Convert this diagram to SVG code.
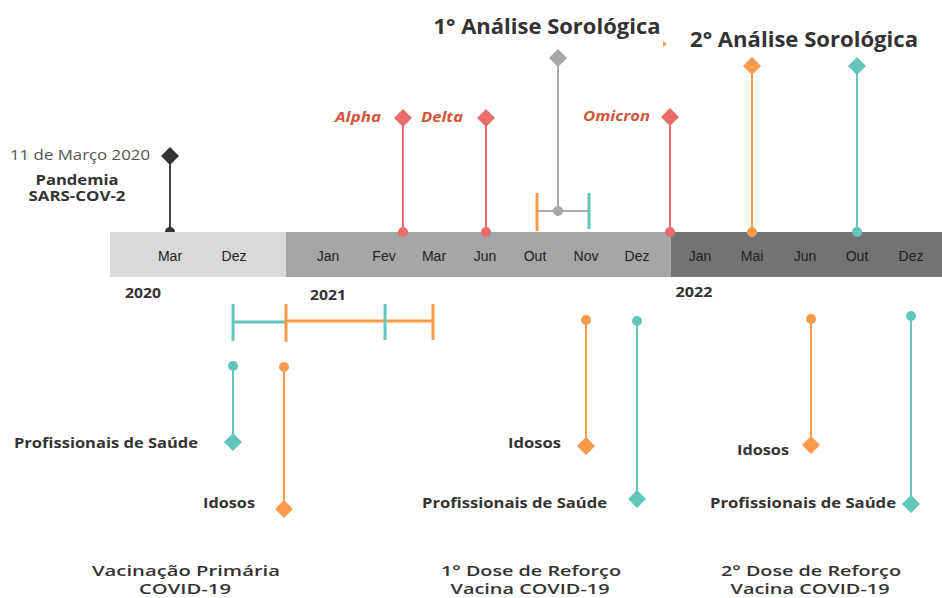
<svg xmlns="http://www.w3.org/2000/svg" width="942" height="598" viewBox="0 0 942 598">
<defs>
<style>
.month{font-family:"Liberation Sans",Arial,sans-serif;font-size:14px;fill:#222;text-anchor:middle}
.year{font-family:"Open Sans","Liberation Sans",sans-serif;font-size:14px;font-weight:bold;fill:#333;text-anchor:middle}
.lbl{font-family:"Open Sans","Liberation Sans",sans-serif;font-size:14px;font-weight:bold;fill:#333;text-anchor:end}
.var{font-family:"Open Sans","Liberation Sans",sans-serif;font-size:14px;font-weight:bold;font-style:italic;fill:#d4553a;text-anchor:end}
.title{font-family:"Open Sans","Liberation Sans",sans-serif;font-size:22px;font-weight:bold;fill:#333;text-anchor:middle}
.cap{font-family:"Open Sans","Liberation Sans",sans-serif;font-size:15px;font-weight:600;fill:#333;text-anchor:middle}
.teal{stroke:#62c7ba;fill:none}
.orange{stroke:#f99a4c;fill:none}
.red{stroke:#ea6b6b;fill:none}
.gray{stroke:#aaaaaa;fill:none}
.fteal{fill:#62c7ba}
.forange{fill:#f99a4c}
.fred{fill:#ea6b6b}
.fgray{fill:#a6a6a6}
</style>
</defs>

<g id="connectors">
  <line x1="170" y1="156" x2="170" y2="232" stroke="#444" stroke-width="2"/>
  <circle cx="170" cy="232" r="5" fill="#333"/>
</g>

<g id="timeline">
  <rect x="110" y="232" width="176" height="45" fill="#d9d9d9"/>
  <rect x="286" y="232" width="385" height="45" fill="#a6a6a6"/>
  <rect x="671" y="232" width="271" height="45" fill="#737373"/>
  <text class="month" x="170" y="261">Mar</text>
  <text class="month" x="234" y="261">Dez</text>
  <text class="month" x="328" y="261">Jan</text>
  <text class="month" x="384" y="261">Fev</text>
  <text class="month" x="434" y="261">Mar</text>
  <text class="month" x="485" y="261">Jun</text>
  <text class="month" x="535" y="261">Out</text>
  <text class="month" x="586" y="261">Nov</text>
  <text class="month" x="637" y="261">Dez</text>
  <text class="month" x="700" y="261">Jan</text>
  <text class="month" x="752" y="261">Mai</text>
  <text class="month" x="805" y="261">Jun</text>
  <text class="month" x="857" y="261">Out</text>
  <text class="month" x="911" y="261">Dez</text>
  <text class="year" x="143" y="298" textLength="36" lengthAdjust="spacingAndGlyphs">2020</text>
  <text class="year" x="328" y="300" textLength="36" lengthAdjust="spacingAndGlyphs">2021</text>
  <text class="year" x="694" y="297" textLength="37" lengthAdjust="spacingAndGlyphs">2022</text>
</g>

<g id="pandemia">
  <polygon points="170,147 179,156 170,165 161,156" fill="#333"/>
  <text x="150" y="160" font-family="'Open Sans','Liberation Sans',sans-serif" font-size="15" fill="#555" text-anchor="end" textLength="140" lengthAdjust="spacingAndGlyphs">11 de Março 2020</text>
  <text class="lbl" x="77" y="185" style="text-anchor:middle" textLength="83" lengthAdjust="spacingAndGlyphs">Pandemia</text>
  <text class="lbl" x="77" y="201" style="text-anchor:middle" textLength="97" lengthAdjust="spacingAndGlyphs">SARS-COV-2</text>
</g>

<g id="alpha">
  <line class="red" x1="403" y1="118" x2="403" y2="232" stroke-width="2"/>
  <circle class="fred" cx="403" cy="232" r="5"/>
  <polygon class="fred" points="403,109 412,118 403,127 394,118"/>
  <text class="var" x="381" y="122" textLength="46" lengthAdjust="spacingAndGlyphs">Alpha</text>
</g>

<g id="delta">
  <line class="red" x1="486" y1="118" x2="486" y2="232" stroke-width="2"/>
  <circle class="fred" cx="486" cy="232" r="5"/>
  <polygon class="fred" points="486,109 495,118 486,127 477,118"/>
  <text class="var" x="463" y="122" textLength="42" lengthAdjust="spacingAndGlyphs">Delta</text>
</g>

<g id="omicron">
  <line class="red" x1="670" y1="117" x2="670" y2="232" stroke-width="2"/>
  <circle class="fred" cx="670" cy="232" r="5"/>
  <polygon class="fred" points="670,108 679,117 670,126 661,117"/>
  <text class="var" x="650" y="121" textLength="67" lengthAdjust="spacingAndGlyphs">Omicron</text>
</g>

<g id="analise1">
  <text class="title" x="547" y="34" textLength="227" lengthAdjust="spacingAndGlyphs">1° Análise Sorológica</text>
  <polygon points="663,41 667,44 663,47" fill="#f99a4c"/>
  <line class="gray" x1="558" y1="58" x2="558" y2="211" stroke-width="2"/>
  <polygon class="fgray" points="558,49 567,58 558,67 549,58"/>
  <line class="gray" x1="537" y1="211" x2="589" y2="211" stroke-width="2"/>
  <circle class="fgray" cx="558" cy="211" r="5"/>
  <line class="orange" x1="537" y1="193" x2="537" y2="231" stroke-width="3"/>
  <line class="teal" x1="589" y1="193" x2="589" y2="229" stroke-width="3"/>
</g>

<g id="analise2">
  <text class="title" x="804" y="47" textLength="228" lengthAdjust="spacingAndGlyphs">2° Análise Sorológica</text>
  <line class="orange" x1="752" y1="66" x2="752" y2="232" stroke-width="2"/>
  <circle class="forange" cx="752" cy="232" r="5"/>
  <polygon class="forange" points="752,57 761,66 752,75 743,66"/>
  <line class="teal" x1="857" y1="66" x2="857" y2="232" stroke-width="2"/>
  <circle class="fteal" cx="857" cy="232" r="5"/>
  <polygon class="fteal" points="857,57 866,66 857,75 848,66"/>
</g>

<g id="vacinacao-primaria">
  <line class="teal" x1="233" y1="322" x2="286" y2="322" stroke-width="3"/>
  <line class="orange" x1="286" y1="321" x2="433" y2="321" stroke-width="3"/>
  <line class="teal" x1="233" y1="304" x2="233" y2="341" stroke-width="3"/>
  <line class="orange" x1="286" y1="304" x2="286" y2="342" stroke-width="3"/>
  <line class="teal" x1="385" y1="304" x2="385" y2="340" stroke-width="3"/>
  <line class="orange" x1="433" y1="304" x2="433" y2="340" stroke-width="3"/>

  <line class="teal" x1="233" y1="366" x2="233" y2="442" stroke-width="2"/>
  <circle class="fteal" cx="233" cy="366" r="5"/>
  <polygon class="fteal" points="233,433 242,442 233,451 224,442"/>
  <text class="lbl" x="198" y="448" textLength="184" lengthAdjust="spacingAndGlyphs">Profissionais de Saúde</text>

  <line class="orange" x1="284" y1="367" x2="284" y2="509" stroke-width="2"/>
  <circle class="forange" cx="284" cy="367" r="5"/>
  <polygon class="forange" points="284,500 293,509 284,518 275,509"/>
  <text class="lbl" x="255" y="508" textLength="52" lengthAdjust="spacingAndGlyphs">Idosos</text>

  <text class="cap" x="186" y="576" textLength="188" lengthAdjust="spacingAndGlyphs">Vacinação Primária</text>
  <text class="cap" x="185" y="594" textLength="92" lengthAdjust="spacingAndGlyphs">COVID-19</text>
</g>

<g id="reforco1">
  <line class="orange" x1="586" y1="320" x2="586" y2="446" stroke-width="2"/>
  <circle class="forange" cx="586" cy="320" r="5"/>
  <polygon class="forange" points="586,437 595,446 586,455 577,446"/>
  <text class="lbl" x="561" y="448" textLength="53" lengthAdjust="spacingAndGlyphs">Idosos</text>

  <line class="teal" x1="637" y1="321" x2="637" y2="499" stroke-width="2"/>
  <circle class="fteal" cx="637" cy="321" r="5"/>
  <polygon class="fteal" points="637,490 646,499 637,508 628,499"/>
  <text class="lbl" x="607" y="508" textLength="185" lengthAdjust="spacingAndGlyphs">Profissionais de Saúde</text>

  <text class="cap" x="531" y="576" textLength="180" lengthAdjust="spacingAndGlyphs">1° Dose de Reforço</text>
  <text class="cap" x="530" y="594" textLength="159" lengthAdjust="spacingAndGlyphs">Vacina COVID-19</text>
</g>

<g id="reforco2">
  <line class="orange" x1="811" y1="319" x2="811" y2="445" stroke-width="2"/>
  <circle class="forange" cx="811" cy="319" r="5"/>
  <polygon class="forange" points="811,436 820,445 811,454 802,445"/>
  <text class="lbl" x="789" y="455" textLength="52" lengthAdjust="spacingAndGlyphs">Idosos</text>

  <line class="teal" x1="911" y1="316" x2="911" y2="504" stroke-width="2"/>
  <circle class="fteal" cx="911" cy="316" r="5"/>
  <polygon class="fteal" points="911,495 920,504 911,513 902,504"/>
  <text class="lbl" x="896" y="508" textLength="186" lengthAdjust="spacingAndGlyphs">Profissionais de Saúde</text>

  <text class="cap" x="811" y="576" textLength="180" lengthAdjust="spacingAndGlyphs">2° Dose de Reforço</text>
  <text class="cap" x="810" y="594" textLength="159" lengthAdjust="spacingAndGlyphs">Vacina COVID-19</text>
</g>
</svg>
